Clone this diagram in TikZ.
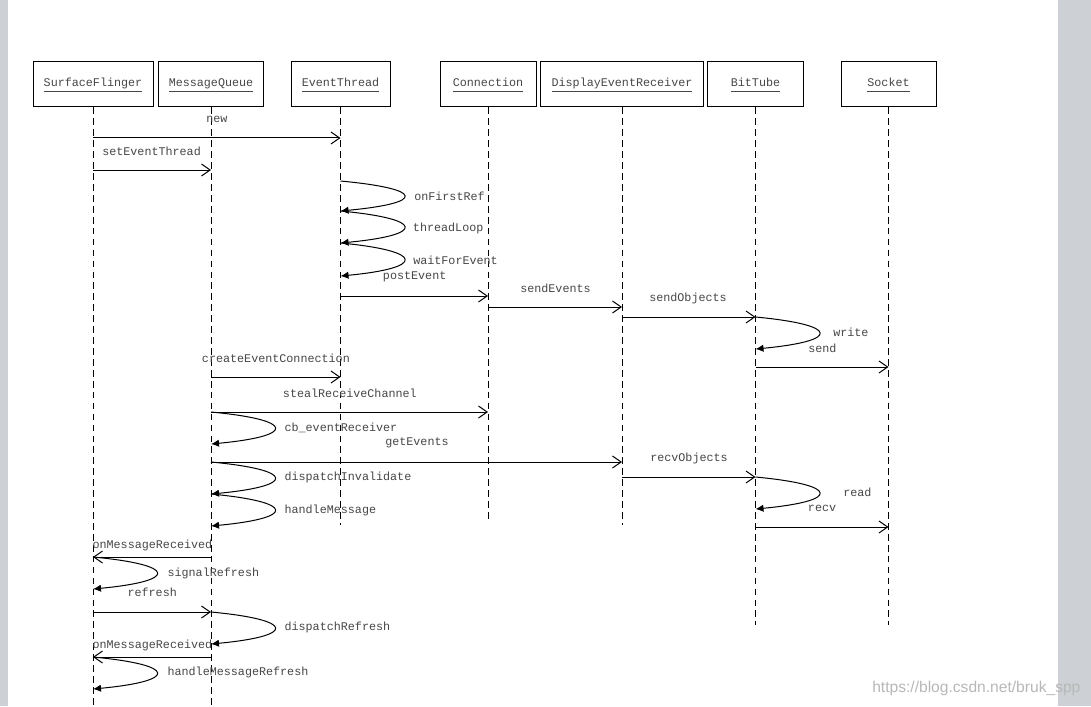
\documentclass[tikz,border=0pt]{standalone}
\usepackage{fontspec}
\setmonofont{Liberation Mono}
\newfontfamily\markfont{Liberation Sans}
\usetikzlibrary{arrows.meta}
\definecolor{stripgray}{RGB}{205,208,212}
\newcommand{\ink}{black!72}
\newcommand{\faint}{black!28}
\newcommand{\objname}[1]{\underline{#1\vphantom{gy}}}

\tikzset{
  obj/.style={draw, line width=0.75pt, minimum height=33.75pt, minimum width=#1*0.75pt,
    inner sep=0pt, text=\ink, text height=6.5pt, text depth=3.5pt},
  life/.style={line width=0.75pt, dash pattern=on 5pt off 3.2pt},
  msg/.style={line width=0.75pt, -{Straight Barb[length=6.5pt,width=9pt]}},
  selfmsg/.style={line width=0.75pt, -{Latex[length=6pt,width=5.5pt]}},
  lbl/.style={anchor=west, inner sep=0pt, text=\ink}
}

\begin{document}
\begin{tikzpicture}[x=0.75pt, y=-0.75pt, font=\ttfamily\fontsize{8.8}{10}\selectfont]
  % page and side strips
  \fill[white] (0,0) rectangle (1091,706);
  \fill[stripgray] (0,0) rectangle (8,706);
  \fill[stripgray] (1058,0) rectangle (1091,706);
  \useasboundingbox (0,0) rectangle (1091,706);

  % objects
  \node[obj=120] (sf) at (93,84.5) {\objname{SurfaceFlinger}};
  \node[obj=105] (mq) at (211,84.5) {\objname{MessageQueue}};
  \node[obj=99] (et) at (340.5,84.5) {\objname{EventThread}};
  \node[obj=96] (conn) at (488,84.5) {\objname{Connection}};
  \node[obj=163] (der) at (622,84.5) {\objname{DisplayEventReceiver}};
  \node[obj=96] (tube) at (755.5,84.5) {\objname{BitTube}};
  \node[obj=95] (sock) at (888.5,84.5) {\objname{Socket}};

  % lifelines
  \foreach \n/\e in {sf/706, mq/706, et/525, conn/520, der/525, tube/625, sock/625}{
    \coordinate (\n-end) at (\n.south |- 0,\e);
    \draw[life] (\n.south) -- (\n-end);
  }

  % calls
  \foreach \a/\b/\h [count=\i] in {sf/et/138, sf/mq/170, et/conn/296, conn/der/307,
      der/tube/317, tube/sock/367, mq/et/377, mq/conn/412, mq/der/462, der/tube/477,
      tube/sock/527, mq/sf/557, sf/mq/612, mq/sf/657}{
    \coordinate (m\i-a) at (\a |- 0,\h);
    \coordinate (m\i-b) at (\b |- 0,\h);
    \draw[msg] (m\i-a) -- (m\i-b);
  }

  % calls to self
  \foreach \a/\p/\q [count=\i] in {et/181/211, et/211/243, et/243/276, tube/317/349,
      mq/412/444, mq/462/494, mq/494/526, tube/477/509, sf/557/589, mq/612/644, sf/657/689}{
    \coordinate (s\i-a) at (\a |- 0,\p);
    \coordinate (s\i-b) at (\a |- 0,\q);
    \draw[selfmsg] (s\i-a) .. controls +(85,8) and +(85,-8) .. (s\i-b);
  }

  % labels
  \foreach \t/\x/\h [count=\i] in {new/206/119, setEventThread/102/151,
      onFirstRef/414/196, threadLoop/412.7/228, waitForEvent/413/260,
      postEvent/382.7/277, sendEvents/520/288, sendObjects/649/298,
      write/833/332.7, send/808/348.3, createEventConnection/201.7/358.3,
      stealReceiveChannel/282.7/393.3, cb\_eventReceiver/284.3/428,
      getEvents/385/443.3, recvObjects/650/458.3, read/843/492.3,
      recv/807.7/508.3, dispatchInvalidate/284.3/477.3, handleMessage/284.3/510,
      onMessageReceived/92.3/545, signalRefresh/167.3/573.3, refresh/127.3/592.7,
      dispatchRefresh/284.3/627.7, onMessageReceived/92.3/645,
      handleMessageRefresh/167.3/672.7}{
    \node[lbl] (l\i) at (\x,\h) {\t};
  }

  \node[lbl, text=\faint, font=\markfont\fontsize{11.7}{13}\selectfont] (site) at (872,688)
    {https://blog.csdn.net/bruk\_spp};
\end{tikzpicture}
\end{document}
